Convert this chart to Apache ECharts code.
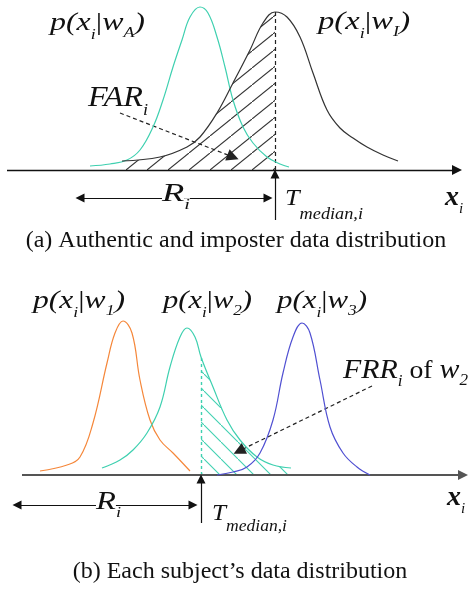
<!DOCTYPE html>
<html><head><meta charset="utf-8">
<script src="https://cdn.jsdelivr.net/npm/echarts@6/dist/echarts.min.js"></script>
<style>html,body{margin:0;padding:0;background:#fff}#c{width:468px;height:590px}</style>
</head><body><div id="c"></div>
<script>
// ---------- DATA (x position, density height) ----------
// Panel (a)
const authenticA = [[90,4],[110,6],[127,10],[140,20],[153,43],[163,70],[173,103],[182,130],[190,153],[200,163],[208,157],[217,133],[225,103],[233,70],[243,43],[253,27],[267,13],[280,6],[289,3]];
const imposterA  = [[122,9],[160,13],[187,23],[200,33],[217,57],[233,87],[250,120],[263,147],[275,158],[287,153],[300,133],[313,97],[327,60],[340,42],[353,32],[367,23],[383,15],[398,9]];
const thresholdA = 275;
// Panel (b)
const subject1 = [[40,4],[67,10],[80,18],[93,52],[107,112],[115,142],[123,154],[132,142],[140,95],[150,55],[160,35],[173,22],[190,4]];
const subject2 = [[102,7],[120,15],[133,25],[147,42],[160,68],[170,108],[180,138],[187,147],[195,138],[201,118],[213,88],[227,55],[240,35],[257,18],[273,10],[291,7]];
const subject3 = [[217,0],[233,3],[247,8],[260,22],[273,55],[283,102],[293,138],[302,152],[310,142],[320,95],[330,48],[343,22],[357,8],[370,0]];
const thresholdB = 201;

const colTeal = '#3fd0b0', colOrange = '#f5873a', colBlue = '#5050d2', colBlack = '#333';

function hatch(w, h, color, dir) {
  const c = document.createElement('canvas'); c.width = w; c.height = h;
  const g = c.getContext('2d'); g.strokeStyle = color; g.lineWidth = 1.1;
  g.beginPath();
  if (dir === '/') { g.moveTo(-w*0.2, h*1.2); g.lineTo(w*1.2, -h*0.2); }
  else { g.moveTo(-w*0.2, -h*0.2); g.lineTo(w*1.2, h*1.2); }
  g.stroke();
  return {image: c, repeat: 'repeat'};
}

const measureCtx = document.createElement('canvas').getContext('2d');
const SERIF = '"Liberation Serif","Times New Roman",serif';
function fontStr(s){ return (s.it ? 'italic ' : '') + (s.b ? 'bold ' : '') + s.s + 'px ' + SERIF; }
function label(x, base, segs, targetW) {
  const children = []; let cx = 0;
  segs.forEach(s => {
    const f = fontStr(s);
    measureCtx.font = f;
    const w = measureCtx.measureText(s.t).width;
    const st = {text: s.t, font: f, fill: s.c || '#111', align: 'left', verticalAlign: 'middle'};
    if (s.bg) { st.backgroundColor = '#fff'; }
    children.push({type: 'text', x: cx, y: (s.dy || 0) - 0.34 * s.s, style: st, z: 100});
    cx += w;
  });
  const sx = targetW ? targetW / cx : 1;
  return [{type: 'group', x: x, y: base, scaleX: sx, children: children, z: 100}];
}
function caption(cx, base, t, size) {
  return {type:'text', x: cx, y: base - 0.34*size, style:{text:t, font: size+'px '+SERIF, fill:'#111', align:'center', verticalAlign:'middle'}};
}
function pLabel(x, base, sub, w) {
  return label(x, base, [
    {t:'p(x', s:25, it:1}, {t:'i', s:14, it:1, dy:8}, {t:'|', s:25}, {t:'w', s:25, it:1},
    {t:sub, s:14, it:1, dy:6}, {t:')', s:25, it:1}], w);
}

const graphics = [].concat(
  pLabel(50, 32, 'A', 95), pLabel(318, 31, 'I', 92),
  label(88, 108, [{t:'FAR', s:30, it:1}, {t:'i', s:17, it:1, dy:8}], 60),
  label(162, 203, [{t:'R', s:25, it:1, bg:1}, {t:'i', s:14, it:1, dy:7, bg:1}], 28),
  label(285, 207, [{t:'T', s:23, it:1}, {t:'median,i', s:16, it:1, dy:13}], 78),
  label(445, 207, [{t:'x', s:28, it:1, b:1}, {t:'i', s:15, it:1, dy:7}]),
  [caption(236, 249, '(a) Authentic and imposter data distribution', 24)],
  pLabel(33, 310, '1', 92), pLabel(163, 310, '2', 89), pLabel(277, 310, '3', 90),
  label(343, 380, [{t:'FRR', s:28, it:1}, {t:'i', s:16, it:1, dy:7}, {t:' of ', s:26}, {t:'w', s:28, it:1}, {t:'2', s:16, it:1, dy:6}], 125),
  label(96, 511, [{t:'R', s:25, it:1, bg:1}, {t:'i', s:14, it:1, dy:7, bg:1}], 25),
  label(212, 522, [{t:'T', s:23, it:1}, {t:'median,i', s:16, it:1, dy:10}], 75),
  label(447, 507, [{t:'x', s:28, it:1, b:1}, {t:'i', s:15, it:1, dy:7}]),
  [caption(240, 580, '(b) Each subject\u2019s data distribution', 24)]
);

function curve(data, color, gi, extra) {
  return Object.assign({type:'line', data: data, xAxisIndex: gi, yAxisIndex: gi, smooth: 0.4, symbol: 'none',
    lineStyle: {color: color, width: 1.2}, z: 5}, extra || {});
}
function seg(a, b, style, syms, size) {
  return [{coord: a, symbol: syms[0], symbolSize: size, lineStyle: style}, {coord: b, symbol: syms[1], symbolSize: size}];
}
const solid = {color:'#111', width:1.2, type:'solid'};
const dashed = {color:'#222', width:1.2, type:[4,3]};

const option = {
  animation: false,
  grid: [
    {left: 0, right: 0, top: 0, height: 240},
    {left: 0, right: 0, top: 280, height: 255}
  ],
  xAxis: [0,1].map(i => ({type:'value', gridIndex:i, min:0, max:468, show:false})),
  yAxis: [
    {type:'value', gridIndex:0, min:-70, max:170, show:false},
    {type:'value', gridIndex:1, min:-60, max:195, show:false}
  ],
  graphic: graphics,
  series: [
    curve(imposterA.filter(p => p[0] <= thresholdA), 'transparent', 0, {
      lineStyle:{width:0}, areaStyle:{color: hatch(21, 17, '#333', '/'), opacity: 1}, z: 3}),
    curve(authenticA, colTeal, 0),
    curve(imposterA, colBlack, 0, {
      markLine: {silent: true, label:{show:false}, symbol:['none','none'],
        data: [
          seg([7,0],[457,0], {color:'#111', width:1.4, type:'solid'}, ['none','triangle'], 10),
          seg([thresholdA,0],[thresholdA,158], dashed, ['none','none'], 0),
          seg([120,57],[233,13], dashed, ['none','triangle'], 12),
          seg([thresholdA,-50],[thresholdA,-4], solid, ['none','triangle'], 9),
          seg([80,-28],[268,-28], solid, ['triangle','triangle'], 9)
        ]}}),
    curve(subject2.filter(p => p[0] >= thresholdB), 'transparent', 1, {
      lineStyle:{width:0}, areaStyle:{color: hatch(17, 17, colTeal, '\\'), opacity: 1}, z: 3}),
    curve(subject1, colOrange, 1),
    curve(subject2, colTeal, 1, {
      markLine: {silent: true, label:{show:false}, symbol:['none','none'],
        data: [
          seg([thresholdB,0],[thresholdB,118], {color: colTeal, width:1.4, type:[3,3]}, ['none','none'], 0)
        ]}}),
    curve(subject3, colBlue, 1, {
      markLine: {silent: true, label:{show:false}, symbol:['none','none'],
        data: [
          seg([22,0],[463,0], {color:'#555', width:2, type:'solid'}, ['none','triangle'], 10),
          seg([372,89],[239,24], dashed, ['none','triangle'], 12),
          seg([thresholdB,-48],[thresholdB,-4], solid, ['none','triangle'], 9),
          seg([17,-30],[193,-30], solid, ['triangle','triangle'], 9)
        ]}})
  ]
};
const chart = echarts.init(document.getElementById('c'), null, {renderer:'canvas'});
chart.setOption(option);
</script></body></html>
